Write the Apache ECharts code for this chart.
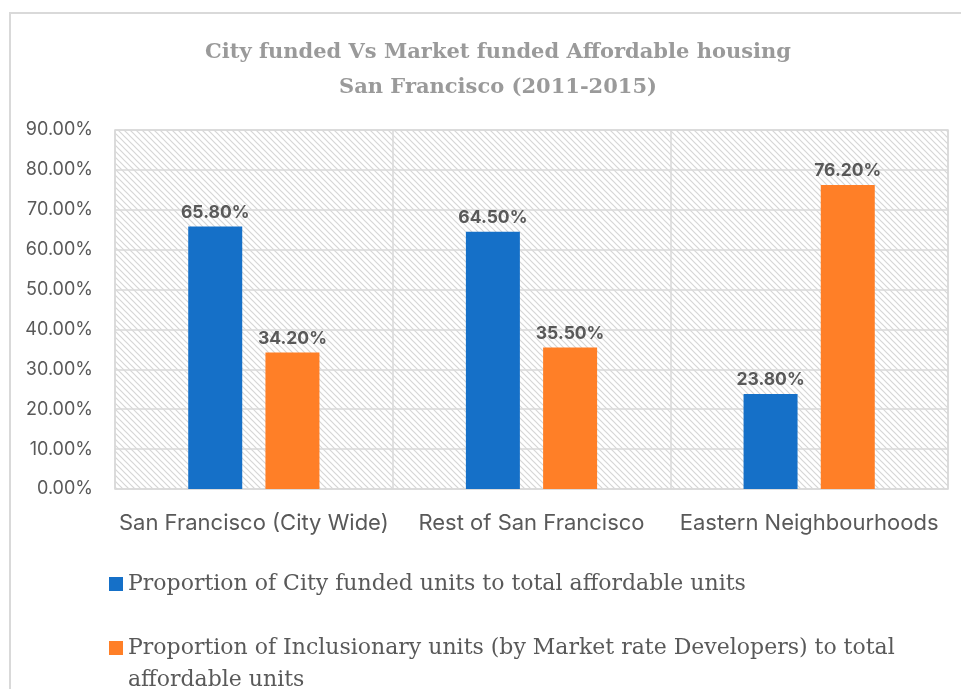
<!DOCTYPE html>
<html>
<head>
<meta charset="utf-8">
<script src="https://cdn.jsdelivr.net/npm/echarts@6/dist/echarts.min.js"></script>
<style>
  html, body { margin: 0; padding: 0; background: #fff; }
  #chart { width: 961px; height: 689px; }
</style>
</head>
<body>
<div id="chart"></div>
<script>
var categories = ['San Francisco (City Wide)', 'Rest of San Francisco', 'Eastern Neighbourhoods']
var cityFunded = [65.8, 64.5, 23.8]
var inclusionary = [34.2, 35.5, 76.2]
var seriesNames = [
  'Proportion of City funded units to total affordable units',
  'Proportion of Inclusionary units (by Market rate Developers) to total affordable units'
]

// diagonal hatch for the plot area
function hatch() {
  var s = 6
  var c = document.createElement('canvas')
  c.width = s
  c.height = s
  var ctx = c.getContext('2d')
  ctx.fillStyle = '#ffffff'
  ctx.fillRect(0, 0, s, s)
  ctx.strokeStyle = '#d6d6d6'
  ctx.lineWidth = 1.2
  ctx.beginPath()
  ctx.moveTo(-1, -1); ctx.lineTo(s + 1, s + 1)
  ctx.moveTo(-1, s - 1); ctx.lineTo(1, s + 1)
  ctx.moveTo(s - 1, -1); ctx.lineTo(s + 1, 1)
  ctx.stroke()
  return c
}

var chart = echarts.init(document.getElementById('chart'))
var labelStyle = {
  show: true,
  position: 'top',
  distance: 5,
  color: '#595959',
  fontFamily: 'Inter',
  fontWeight: 'bold',
  fontSize: 17.5,
  formatter: function (p) { return p.value.toFixed(2) + '%' }
}
var legendText = { fontFamily: 'DejaVu Serif', fontSize: 22, lineHeight: 32, color: '#595959' }

chart.setOption({
  animation: false,
  title: {
    text: 'City funded Vs Market funded Affordable housing\nSan Francisco (2011-2015)',
    left: 493,
    textAlign: 'center',
    top: 30,
    textStyle: {
      fontFamily: 'DejaVu Serif',
      fontWeight: 'bold',
      fontSize: 21,
      lineHeight: 35,
      color: '#9a9a9a'
    }
  },
  graphic: [{
    type: 'rect',
    shape: { x: 10, y: 13, width: 1000, height: 720 },
    style: { fill: 'none', stroke: '#d9d9d9', lineWidth: 2 },
    silent: true
  }],
  legend: [{
    data: [seriesNames[0]],
    left: 109,
    top: 568,
    padding: 0,
    itemWidth: 14,
    itemHeight: 14,
    icon: 'rect',
    textStyle: legendText
  }, {
    data: [seriesNames[1]],
    left: 109,
    top: 600,
    padding: 0,
    itemWidth: 14,
    itemHeight: 14,
    icon: 'rect',
    // leading blank line keeps the marker beside the first text line
    formatter: function (name) { return '\n' + name },
    textStyle: Object.assign({ width: 790, overflow: 'break' }, legendText)
  }],
  grid: {
    left: 115,
    right: 13,
    top: 130,
    bottom: 200,
    show: true,
    backgroundColor: { image: hatch(), repeat: 'repeat' },
    borderColor: '#d9d9d9',
    borderWidth: 1.5
  },
  xAxis: {
    type: 'category',
    data: categories,
    axisLine: { show: false },
    axisTick: { show: false },
    splitLine: { show: true, interval: 0, lineStyle: { color: '#d9d9d9', width: 1.5 } },
    axisLabel: { interval: 0, color: '#595959', fontFamily: 'Inter', fontSize: 22, margin: 23 }
  },
  yAxis: {
    type: 'value',
    min: 0,
    max: 90,
    interval: 10,
    axisLine: { show: false },
    axisTick: { show: false },
    splitLine: { lineStyle: { color: '#d9d9d9', width: 1.5 } },
    axisLabel: {
      color: '#595959', fontFamily: 'Inter', fontSize: 18, margin: 22,
      formatter: function (v) { return v.toFixed(2) + '%' }
    }
  },
  series: [{
    name: seriesNames[0],
    type: 'bar',
    data: cityFunded,
    barWidth: 54,
    barGap: '43%',
    itemStyle: { color: '#1570C8' },
    label: labelStyle
  }, {
    name: seriesNames[1],
    type: 'bar',
    data: inclusionary,
    barWidth: 54,
    itemStyle: { color: '#FF7F27' },
    label: labelStyle
  }]
})
</script>
</body>
</html>
